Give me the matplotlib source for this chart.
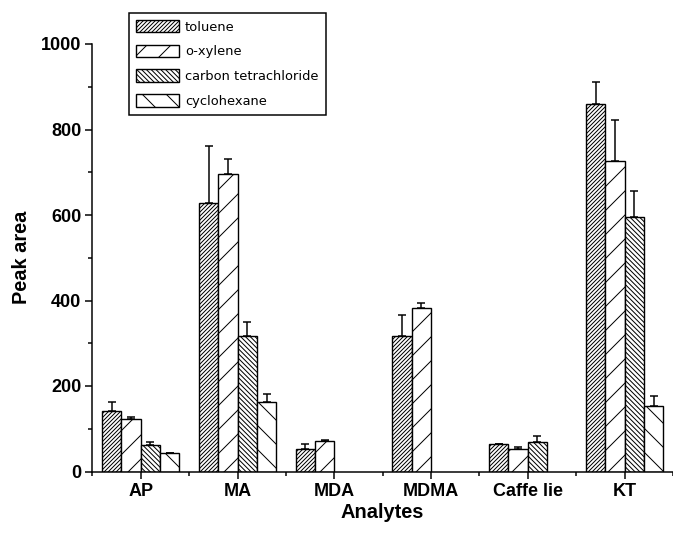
import numpy as np
import matplotlib
matplotlib.use("Agg")
import matplotlib.pyplot as plt
from matplotlib.ticker import MultipleLocator, FixedLocator

# data (peak area, upper error only)
analytes = ["AP", "MA", "MDA", "MDMA", "Caffe lie", "KT"]
solvents = ["toluene", "o-xylene", "carbon tetrachloride", "cyclohexane"]
toluene     = [141, 627, 53, 317, 64, 860]
toluene_err = [22, 134, 12, 50, 0, 51]
oxylene     = [123, 696, 71, 382, 53, 726]
oxylene_err = [4, 34, 3, 11, 4, 96]
ccl4        = [61, 317, np.nan, np.nan, 70, 595]
ccl4_err    = [9, 33, np.nan, np.nan, 12, 61]
chex        = [43, 163, np.nan, np.nan, np.nan, 153]
chex_err    = [0, 18, np.nan, np.nan, np.nan, 23]

series = [(toluene, toluene_err, "//////"), (oxylene, oxylene_err, "/"),
          (ccl4, ccl4_err, "\\\\\\\\\\"), (chex, chex_err, "\\")]

plt.rcParams["font.family"] = ["Liberation Sans", "DejaVu Sans"]
plt.rcParams["hatch.linewidth"] = 1.0

DPI = 72
fig = plt.figure(figsize=(673 / DPI, 534 / DPI), dpi=DPI)
ax = fig.add_axes([92.4 / 673, 62.5 / 534, 580.5 / 673, 427.5 / 534])

x = np.arange(1, len(analytes) + 1)
w = 0.2
for i, (vals, errs, hatch) in enumerate(series):
    pos = x + (i - 1.5) * w
    vals = np.array(vals, dtype=float)
    errs = np.array(errs, dtype=float)
    ax.bar(pos, vals, w, color="white", edgecolor="black", hatch=hatch,
           linewidth=1.4, label=solvents[i], zorder=2)
    ok = ~np.isnan(vals)
    ax.errorbar(pos[ok], vals[ok], yerr=[np.zeros(ok.sum()), errs[ok]], fmt="none",
                ecolor="black", elinewidth=1.5, capsize=4, capthick=1.5, zorder=3)

ax.set_xlim(0.5, 6.5)
ax.set_ylim(0, 1000)
ax.set_xticks(x)
ax.set_xticklabels(analytes)
ax.xaxis.set_minor_locator(FixedLocator(np.arange(0.5, 7, 1)))
ax.yaxis.set_major_locator(MultipleLocator(200))
ax.yaxis.set_minor_locator(MultipleLocator(100))
ax.tick_params(which="major", direction="out", length=7, width=1.5,
               labelsize=18, pad=4)
ax.tick_params(which="minor", direction="out", length=4, width=1.5)
for lab in ax.get_xticklabels() + ax.get_yticklabels():
    lab.set_fontweight("bold")
for s in ["top", "right"]:
    ax.spines[s].set_visible(False)
for s in ["left", "bottom"]:
    ax.spines[s].set_linewidth(1.5)

ax.set_xlabel("Analytes", fontsize=20, fontweight="bold", labelpad=3)
ax.set_ylabel("Peak area", fontsize=20, fontweight="bold", labelpad=10)

leg = ax.legend(loc="upper left", bbox_to_anchor=(0.063, 1.073), borderaxespad=0,
                handlelength=3.3, handleheight=1.1, labelspacing=0.85,
                handletextpad=0.45, borderpad=0.55, fancybox=False, framealpha=1,
                prop={"family": "DejaVu Sans", "size": 13})
leg.get_frame().set_edgecolor("black")
leg.get_frame().set_linewidth(1.5)

fig.savefig("out.png", dpi=DPI, facecolor="white")
